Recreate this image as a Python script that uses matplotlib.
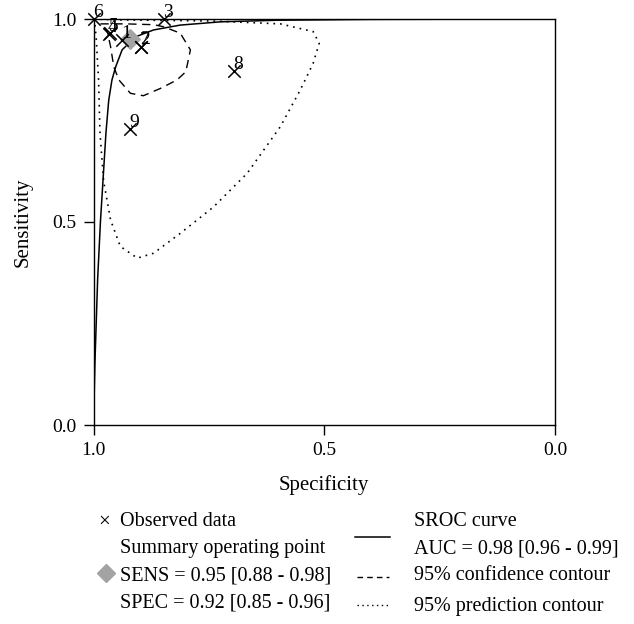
import matplotlib
matplotlib.use('Agg')
import matplotlib.pyplot as plt
from matplotlib.lines import Line2D

plt.rcParams['font.family'] = ['Liberation Serif', 'DejaVu Serif']

# ---- data ----
study_ids = ['1', '2', '3', '4', '5', '6', '7', '8', '9']
study_spec = [0.938, 0.898, 0.848, 0.967, 0.965, 1.000, 0.898, 0.695, 0.920]
study_sens = [0.948, 0.932, 1.000, 0.962, 0.965, 1.000, 0.930, 0.872, 0.728]

summary_spec = 0.92
summary_sens = 0.95

sroc_spec = [1.0, 0.997, 0.991, 0.985, 0.979, 0.973, 0.967, 0.960, 0.952,
             0.938, 0.909, 0.870, 0.812, 0.725, 0.60, 0.40, 0.0]
sroc_sens = [0.0, 0.15, 0.36, 0.50, 0.61, 0.72, 0.80, 0.85, 0.882,
             0.924, 0.956, 0.973, 0.985, 0.993, 0.997, 0.999, 1.0]

conf_spec = [0.985, 0.970, 0.930, 0.870, 0.848, 0.812, 0.790, 0.800, 0.819,
             0.855, 0.892, 0.920, 0.945, 0.956, 0.963, 0.970, 0.985]
conf_sens = [0.988, 0.988, 0.988, 0.986, 0.981, 0.965, 0.924, 0.870, 0.850,
             0.829, 0.811, 0.817, 0.850, 0.882, 0.932, 0.969, 0.988]

pred_spec = [1.0, 0.956, 0.74, 0.595, 0.524, 0.511, 0.524, 0.552, 0.595,
             0.667, 0.74, 0.812, 0.870, 0.905, 0.942, 0.963, 0.978, 0.986,
             0.989, 0.994, 0.997, 1.0]
pred_sens = [1.0, 0.998, 0.995, 0.988, 0.969, 0.940, 0.891, 0.825, 0.735,
             0.620, 0.537, 0.472, 0.423, 0.411, 0.44, 0.505, 0.60, 0.72,
             0.85, 0.95, 0.99, 1.0]

x_ticks = [1.0, 0.5, 0.0]
y_ticks = [0.0, 0.5, 1.0]

W, H = 634, 624
fig = plt.figure(figsize=(W / 100, H / 100), dpi=100)
ax = fig.add_axes([93.5 / W, 1 - 425 / H, 461.5 / W, 406 / H])

ax.plot(sroc_spec, sroc_sens, color='black', lw=1.1)
ax.plot(conf_spec, conf_sens, color='black', lw=1.0, ls=(0, (6, 4)))
ax.plot(pred_spec, pred_sens, color='black', lw=1.2, ls=(0, (1, 3)))
ax.scatter(study_spec, study_sens, marker='x', color='black', s=80, lw=1.1,
           zorder=4, clip_on=False)
for sid, sx, sy in zip(study_ids, study_spec, study_sens):
    ax.annotate(sid, (sx, sy), xytext=(3, 5), textcoords='offset points',
                ha='center', va='center', fontsize=14, annotation_clip=False,
                zorder=5)
ax.scatter([summary_spec], [summary_sens], marker='D', s=100, color='#a3a3a3',
           edgecolor='#a3a3a3', zorder=3)

ax.set_xlim(1.0, 0.0)
ax.set_ylim(0.0, 1.0)
ax.set_xticks(x_ticks)
ax.set_yticks(y_ticks)
ax.set_xticklabels([f'{v:.1f}' for v in x_ticks])
ax.set_yticklabels([f'{v:.1f}' for v in y_ticks])
ax.tick_params(direction='out', length=7, width=1, labelsize=14, pad=5)
for s in ax.spines.values():
    s.set_linewidth(1.0)
ax.set_xlabel('Specificity', fontsize=15, labelpad=12)
ax.set_ylabel('Sensitivity', fontsize=15, labelpad=14)

# ---- legend drawn below the axes ----
def fx(px):
    return px / W

def fy(py):
    return 1 - py / H

fs = 14.5
fig.text(fx(104), fy(522), '×', fontsize=15, ha='center', va='center')
fig.text(fx(120), fy(521), 'Observed data', fontsize=fs, va='center')
fig.text(fx(120), fy(549), 'Summary operating point', fontsize=fs, va='center')
fig.text(fx(120), fy(576), 'SENS = 0.95 [0.88 - 0.98]', fontsize=fs, va='center')
fig.text(fx(120), fy(603), 'SPEC = 0.92 [0.85 - 0.96]', fontsize=fs, va='center')
fig.add_artist(Line2D([fx(106)], [fy(573)], marker='D', markersize=9.5,
                      color='#a3a3a3', transform=fig.transFigure))

fig.add_artist(Line2D([fx(355), fx(390)], [fy(537), fy(537)], color='black',
                      lw=1.1, transform=fig.transFigure))
fig.add_artist(Line2D([fx(357), fx(389)], [fy(577), fy(577)], color='black',
                      lw=1.0, ls=(0, (4, 3)), transform=fig.transFigure))
fig.add_artist(Line2D([fx(357), fx(389)], [fy(605), fy(605)], color='black',
                      lw=1.0, ls=(0, (1, 2.5)), transform=fig.transFigure))
fig.text(fx(414), fy(521), 'SROC curve', fontsize=fs, va='center')
fig.text(fx(414), fy(549), 'AUC = 0.98 [0.96 - 0.99]', fontsize=fs, va='center')
fig.text(fx(414), fy(576), '95% confidence contour', fontsize=fs, va='center')
fig.text(fx(414), fy(606), '95% prediction contour', fontsize=fs, va='center')

fig.savefig('out.png', dpi=100)
